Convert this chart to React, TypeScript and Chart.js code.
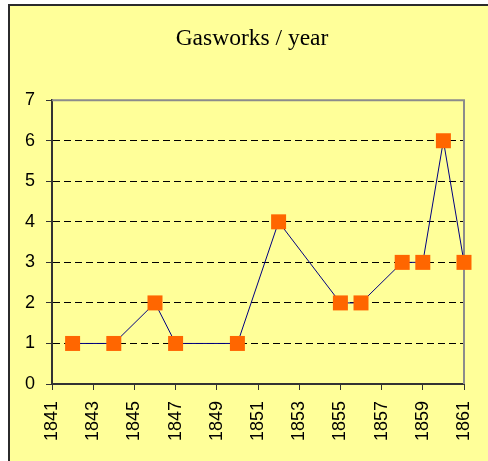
import React, { useEffect, useRef } from "react";
import { Chart, registerables } from "chart.js";

Chart.register(...registerables);

const years: number[] = [1842, 1844, 1846, 1847, 1850, 1852, 1855, 1856, 1858, 1859, 1860, 1861];
const gasworks: number[] = [1, 1, 2, 1, 1, 4, 2, 2, 3, 3, 6, 3];
const titleText = "Gasworks / year";
const xMin = 1841;
const xMax = 1861;
const yMin = 0;
const yMax = 7;

const plotFrame = {
  id: "plotFrame",
  beforeDatasetsDraw(chart: any) {
    const { ctx, chartArea } = chart;
    ctx.save();
    ctx.strokeStyle = "#8c8c8c";
    ctx.lineWidth = 2;
    ctx.beginPath();
    ctx.moveTo(chartArea.left, chartArea.top);
    ctx.lineTo(chartArea.right, chartArea.top);
    ctx.lineTo(chartArea.right, chartArea.bottom);
    ctx.stroke();
    ctx.restore();
  },
};

export default function App() {
  const ref = useRef<HTMLCanvasElement>(null);
  useEffect(() => {
    if (!ref.current) return;
    const chart = new Chart(ref.current, {
      type: "line",
      data: {
        datasets: [
          {
            data: years.map((y, i) => ({ x: y, y: gasworks[i] })),
            borderColor: "#000080",
            borderWidth: 1,
            pointStyle: "rect",
            pointRadius: 10.6,
            pointHoverRadius: 10.6,
            pointBackgroundColor: "#FF6600",
            pointBorderColor: "#FF6600",
            pointBorderWidth: 0,
            clip: false,
            yAxisID: "y",
          } as any,
        ],
      },
      options: {
        responsive: false,
        animation: false,
        events: [],
        layout: { padding: { left: 6, right: 0, top: 0, bottom: 0 } },
        plugins: {
          legend: { display: false },
          tooltip: { enabled: false },
          title: {
            display: true,
            text: titleText,
            color: "#000",
            font: { family: "'Liberation Serif', 'Times New Roman', serif", size: 23.5, weight: "normal" },
            padding: { top: 19, bottom: 47 },
          },
        },
        scales: {
          x: {
            type: "linear",
            min: xMin,
            max: xMax,
            afterFit: (s: any) => {
              s.height = 77;
              s.paddingLeft = 0;
              s.paddingRight = 0;
            },
            ticks: {
              stepSize: 2,
              minRotation: 90,
              maxRotation: 90,
              color: "#000",
              padding: 11,
              font: { family: "'Liberation Sans', Arial, sans-serif", size: 18 },
              callback: (v: any) => String(v),
            },
            grid: { drawOnChartArea: false, drawTicks: true, tickLength: 6, color: "#333", tickColor: "#333" },
            border: { display: true, color: "#333", width: 2 },
          },
          y: {
            min: yMin,
            max: yMax,
            position: "left",
            afterFit: (s: any) => {
              s.width = 36;
            },
            ticks: {
              stepSize: 1,
              color: "#000",
              padding: 11,
              font: { family: "'Liberation Sans', Arial, sans-serif", size: 18 },
            },
            grid: {
              drawTicks: true,
              tickLength: 6,
              tickColor: "#333",
              color: (c: any) => (c.tick && (c.tick.value === yMin || c.tick.value === yMax) ? "rgba(0,0,0,0)" : "#000"),
              lineWidth: 1,
            },
            border: { display: true, color: "#333", width: 2, dash: [7, 4] },
          },
          y2: {
            position: "right",
            min: yMin,
            max: yMax,
            display: true,
            afterFit: (s: any) => {
              s.width = 24;
              s.paddingTop = 0;
              s.paddingBottom = 0;
            },
            ticks: { display: false },
            grid: { display: false },
            border: { display: false },
          },
        },
      },
      plugins: [plotFrame],
    });
    return () => chart.destroy();
  }, []);
  return (
    <div
      style={{
        position: "absolute",
        left: 8,
        top: 4,
        width: 478,
        height: 455,
        background: "#FFFF99",
        borderLeft: "2px solid #2b2b2b",
        borderTop: "2px solid #2b2b2b",
      }}
    >
      <canvas ref={ref} width={478} height={455} style={{ display: "block" }} />
    </div>
  );
}
